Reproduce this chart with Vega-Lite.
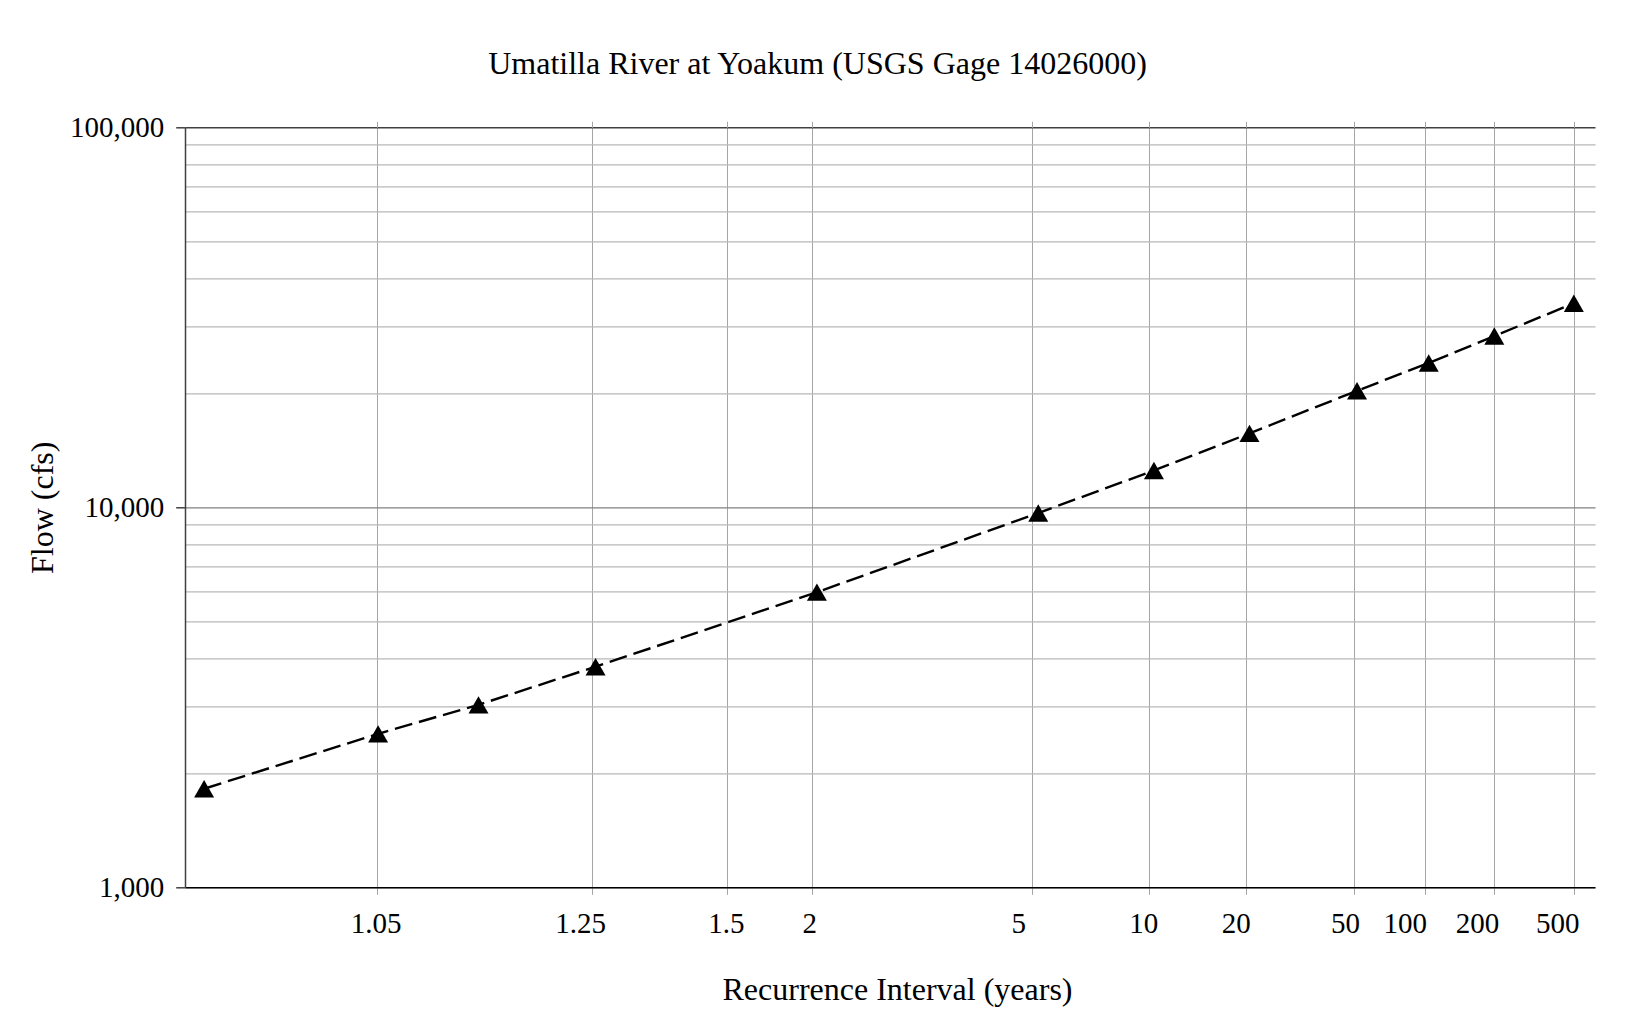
{
  "$schema": "https://vega.github.io/schema/vega-lite/v6.json",
  "autosize": {"type": "none"},
  "width": 1410,
  "height": 760,
  "padding": {"left": 185, "top": 127.3, "right": 40, "bottom": 139.7},
  "background": "white",
  "config": {"view": {"stroke": null}, "font": "Liberation Serif"},
  "title": {
    "text": "Umatilla River at Yoakum (USGS Gage 14026000)",
    "font": "Liberation Serif",
    "fontSize": 32,
    "fontWeight": "normal",
    "color": "black",
    "anchor": "middle",
    "frame": "group",
    "dx": -72.5,
    "offset": 32
  },
  "data": {
    "values": [
      {"T": 1.01, "flow": 1817},
      {"T": 1.05, "flow": 2535},
      {"T": 1.11, "flow": 3022},
      {"T": 1.25, "flow": 3806},
      {"T": 2, "flow": 5978},
      {"T": 5, "flow": 9660},
      {"T": 10, "flow": 12500},
      {"T": 20, "flow": 15655},
      {"T": 50, "flow": 20260},
      {"T": 100, "flow": 23975},
      {"T": 200, "flow": 28230},
      {"T": 500, "flow": 34430}
    ]
  },
  "transform": [{"calculate": "quantileNormal(1 - 1/datum.T)", "as": "z"}],
  "encoding": {
    "y": {
      "field": "flow",
      "type": "quantitative",
      "scale": {"type": "log", "domain": [1000, 100000], "nice": false},
      "axis": {
        "title": "Flow (cfs)",
        "titleFont": "Liberation Serif",
        "titleFontSize": 32,
        "titleFontWeight": "normal",
        "titleColor": "black",
        "titlePadding": 10,
        "values": [1000, 2000, 3000, 4000, 5000, 6000, 7000, 8000, 9000, 10000, 20000, 30000, 40000, 50000, 60000, 70000, 80000, 90000, 100000],
        "labelExpr": "(datum.value == 1000 || datum.value == 10000 || datum.value == 100000) ? format(datum.value, ',') : ''",
        "labelFont": "Liberation Serif",
        "labelFontSize": 29,
        "labelColor": "black",
        "labelPadding": 12,
        "labelOverlap": false,
        "labelBound": false,
        "labelFlush": false,
        "tickSize": 9.3,
        "tickWidth": 1.5,
        "tickColor": "#404040",
        "tickOpacity": {"condition": {"test": "datum.value == 1000 || datum.value == 10000 || datum.value == 100000", "value": 1}, "value": 0},
        "domainColor": "#404040",
        "domainWidth": 1.5,
        "grid": true,
        "gridColor": {"condition": [{"test": "datum.value == 100000", "value": "#404040"}, {"test": "datum.value == 10000", "value": "#808080"}], "value": "#b8b8b8"},
        "gridWidth": {"condition": {"test": "datum.value == 100000", "value": 1.5}, "value": 1.2}
      }
    }
  },
  "layer": [
    {
      "mark": {"type": "line", "color": "black", "strokeWidth": 2.4, "strokeDash": [18, 7]},
      "encoding": {
        "x": {
          "field": "z",
          "type": "quantitative",
          "scale": {"domain": [-2.4027, 2.9586], "nice": false, "zero": false},
          "axis": {
            "orient": "bottom",
            "title": "Recurrence Interval (years)",
            "titleFont": "Liberation Serif",
            "titleFontSize": 32,
            "titleFontWeight": "normal",
            "titleColor": "black",
            "titlePadding": 36,
            "titleX": 712,
            "values": [-1.6711, -0.854, -0.3407, -0.0175, 0.819, 1.2639, 1.6304, 2.0433, 2.3133, 2.5757, 2.8787],
            "labelExpr": "['1.05','1.25','1.5','2','5','10','20','50','100','200','500'][indexof([-1.6711, -0.854, -0.3407, -0.0175, 0.819, 1.2639, 1.6304, 2.0433, 2.3133, 2.5757, 2.8787], datum.value)]",
            "labelFont": "Liberation Serif",
            "labelFontSize": 29,
            "labelColor": "black",
            "labelPadding": 15.5,
            "labelOverlap": false,
            "labelBound": false,
            "labelFlush": false,
            "labelOffset": {
              "condition": [
                {"test": "datum.value == -1.6711", "value": -1.8},
                {"test": "datum.value == -0.854", "value": -12.3},
                {"test": "datum.value == -0.3407", "value": -1.3},
                {"test": "datum.value == -0.0175", "value": -3.1},
                {"test": "datum.value == 0.819", "value": -14},
                {"test": "datum.value == 1.2639", "value": -6},
                {"test": "datum.value == 1.6304", "value": -9.9},
                {"test": "datum.value == 2.0433", "value": -9.3},
                {"test": "datum.value == 2.3133", "value": -20.6},
                {"test": "datum.value == 2.5757", "value": -17.3},
                {"test": "datum.value == 2.8787", "value": -16.8}
              ],
              "value": 0
            },
            "tickSize": 7,
            "tickColor": "#a6a6a6",
            "tickWidth": 1,
            "grid": true,
            "gridColor": "#a6a6a6",
            "gridWidth": 1,
            "domainColor": "black",
            "domainWidth": 1.5
          }
        }
      }
    },
    {
      "mark": {"type": "point", "shape": "triangle-up", "filled": true, "color": "black", "size": 400, "opacity": 1},
      "encoding": {
        "x": {
          "field": "z",
          "type": "quantitative",
          "axis": {
            "orient": "top",
            "title": null,
            "labels": false,
            "domain": false,
            "grid": false,
            "ticks": true,
            "tickSize": 6,
            "tickColor": "#a6a6a6",
            "tickWidth": 1,
            "values": [-1.6711, -0.854, -0.3407, -0.0175, 0.819, 1.2639, 1.6304, 2.0433, 2.3133, 2.5757, 2.8787]
          }
        }
      }
    }
  ],
  "resolve": {"axis": {"x": "independent"}}
}
